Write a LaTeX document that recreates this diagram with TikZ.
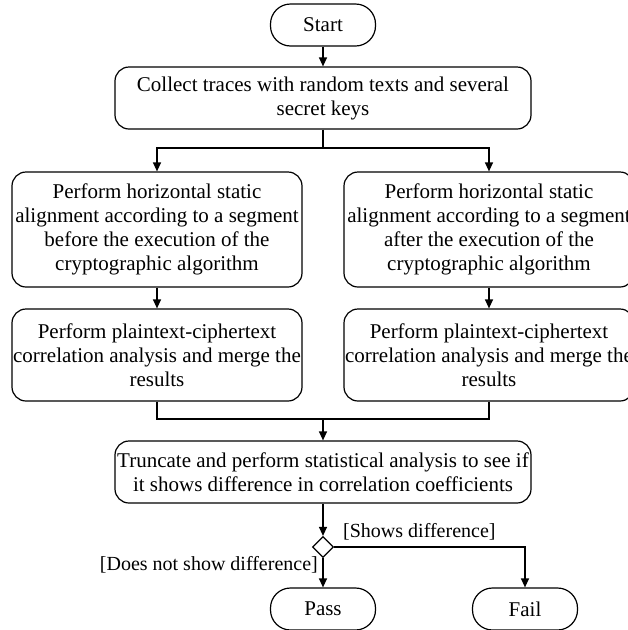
\documentclass[tikz,border=0pt]{standalone}
\usepackage{fontspec}
\setmainfont{Liberation Serif}
\usetikzlibrary{shapes.geometric,arrows.meta}
\begin{document}
\begin{tikzpicture}[x=1pt,y=-1pt,
  every node/.style={font=\fontsize{21}{24}\selectfont},
  flowbox/.style={draw,line width=1.2pt,rounded corners=14pt,align=center,inner sep=0pt},
  terminal/.style={draw,line width=1.2pt,rounded corners=20pt,align=center,inner sep=0pt,minimum width=105pt,minimum height=42pt},
  decision/.style={draw,line width=1.2pt,diamond,inner sep=0pt,minimum width=21pt,minimum height=21pt},
  link/.style={line width=1.2pt},
  arrow/.style={link,-{Triangle[length=9pt,width=8pt]}},
  tag/.style={inner sep=0pt,font=\fontsize{20}{23}\selectfont}]
\useasboundingbox (0,0) rectangle (628,630);
\clip (0,0) rectangle (628,630);

% main column
\node[terminal] (start) at (323,25) {Start};
\node[flowbox,minimum width=416pt,minimum height=62pt] (collect) at (323,98)
  {Collect traces with random texts and several\\secret keys};

% two alignment branches
\node[flowbox,minimum width=290pt,minimum height=115pt] (left1) at (157,229.5)
  {Perform horizontal static\\alignment according to a segment\\before the execution of the\\cryptographic algorithm};
\node[flowbox,minimum width=290pt,minimum height=115pt] (right1) at (489,229.5)
  {Perform horizontal static\\alignment according to a segment\\after the execution of the\\cryptographic algorithm};
\node[flowbox,minimum width=290pt,minimum height=92pt] (left2) at (157,355)
  {Perform plaintext-ciphertext\\correlation analysis and merge the\\results};
\node[flowbox,minimum width=290pt,minimum height=92pt] (right2) at (489,355)
  {Perform plaintext-ciphertext\\correlation analysis and merge the\\results};

% evaluation
\node[flowbox,minimum width=416pt,minimum height=62pt] (trunc) at (323,472)
  {Truncate and perform statistical analysis to see if\\it shows difference in correlation coefficients};
\node[decision] (dec) at (323,547) {};
\node[terminal] (pass) at (323,609) {Pass};
\node[terminal] (fail) at (525,609) {Fail};

\node[tag,anchor=west] (lshows) at (343,532) {[Shows difference]};
\node[tag,anchor=east] (lnot) at (318,565) {[Does not show difference]};

\coordinate (split) at (323,148);
\coordinate (merge) at (323,419);

% connectors
\draw[arrow] (start) -- (collect);
\draw[link] (collect.south) -- (split);
\draw[arrow] (split) -| (left1.north);
\draw[arrow] (split) -| (right1.north);
\draw[arrow] (left1) -- (left2);
\draw[arrow] (right1) -- (right2);
\draw[link] (left2.south) |- (merge);
\draw[link] (right2.south) |- (merge);
\draw[arrow] (merge) -- (trunc.north);
\draw[arrow] (trunc) -- (dec);
\draw[arrow] (dec) -- (pass);
\draw[arrow] (dec.east) -| (fail.north);
\end{tikzpicture}
\end{document}
